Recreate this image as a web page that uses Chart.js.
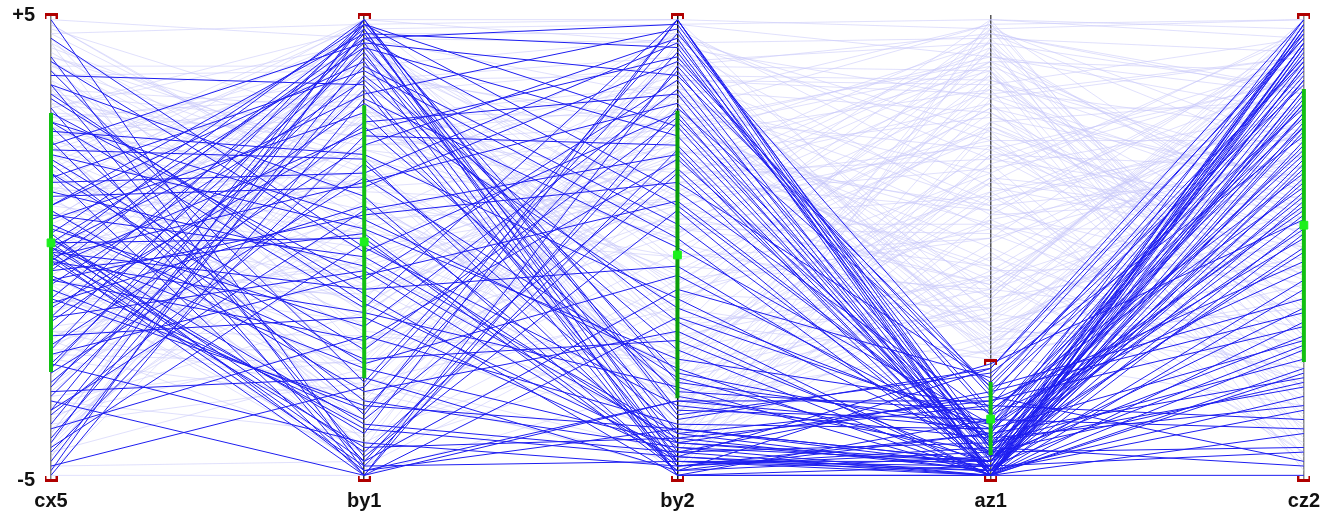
<!DOCTYPE html>
<html>
<head>
<meta charset="utf-8">
<script src="https://cdn.jsdelivr.net/npm/chart.js@4.4.1/dist/chart.umd.min.js"></script>
<style>
  html, body { margin: 0; padding: 0; background: #ffffff; }
  #wrap { width: 1329px; height: 529px; }
</style>
</head>
<body>
<div id="wrap"><canvas id="pcChart" width="1329" height="529"></canvas></div>
<script>
// axes of the parallel coordinates plot
const axisNames = ["cx5", "by1", "by2", "az1", "cz2"];
const axisColors = ["#808080", "#333333", "#111111", "#555555", "#8a8a8a"];

// selected (blue) records, one array per axis
const cx5Sel = [4.9, 4.1, 3.8, 3.5, 3.3, 3.0, 2.7, 2.6, 2.3, 2.1,
	1.9, 1.6, 1.5, 1.2, 0.9, 0.8, 0.6, 0.4, 0.3, 0.2,
	0.1, 0.1, 0.0, 0.0, -0.1, -0.1, -0.2, -0.2, -0.3, -0.3,
	-0.4, -0.5, -0.7, -0.8, -1.1, -1.2, -1.5, -1.6, -1.8, -2.1,
	-2.2, -2.5, -2.6, -2.9, -3.0, -3.2, -3.5, -3.6, -3.8, -4.1,
	-4.2, -4.4, -4.6, -4.8, -4.9, 3.5, 2.9, 2.0, 1.4, 0.7,
	-0.7, -1.5, 4.5, 4.0, 3.2, 2.5, 1.8, 1.1, 0.5, -0.5,
	-0.9, -1.3, -1.9, -2.3, -2.7, -3.1, -3.5, -3.9, -4.3, -4.7,
	0.2, -0.2, 0.1, -0.3, 0.3, 0.0, -0.1, 1.6, -1.1, 2.7,
	-2.5, 3.7, -3.3, 0.9, -0.6, 2.2];
const by1Sel = [-4.7, -4.8, -2.9, -4.5, -1.2, -4.9, 0.6, -3.6, -4.6, 1.9,
	-2.2, -4.9, 3.8, -0.4, 4.6, -3.1, 2.9, -1.7, 4.8, -4.4,
	0.2, 4.3, -2.6, 3.3, -0.9, 4.9, 1.4, -3.9, 4.5, -1.4,
	2.5, 4.7, -2.0, 3.6, 4.4, 0.9, 4.8, 3.1, 4.2, 2.2,
	4.9, 3.9, 4.6, 2.7, 4.3, 3.4, 4.8, 1.8, 4.5, 3.7,
	4.9, 2.4, 4.1, 4.7, 3.2, 1.1, -0.7, 0.4, 1.6, -0.2,
	0.7, -0.5, 0.0, -0.1, -1.0, 2.0, -3.3, 1.3, -2.4, 0.3,
	-3.5, 2.6, -1.5, -0.6, 1.5, -2.8, 0.8, -1.9, 0.1, -3.0,
	-3.8, -4.9, -4.6, -4.3, -4.8, -4.0, -4.7, -2.5, -3.4, -1.3,
	-4.2, 3.5, -4.9, 4.0, -3.7, 4.4];
const by2Sel = [2.1, -3.9, 4.6, 0.8, -4.4, 3.9, -2.6, 4.9, -0.9, -4.6,
	2.8, -3.3, 0.2, -4.1, 4.3, -1.8, -3.7, 3.4, -2.9, 1.6,
	-4.8, 2.4, -4.2, 4.7, -0.4, -3.5, 3.1, -4.5, 0.9, -3.0,
	4.1, -4.9, 1.9, -2.2, 3.7, -4.3, 2.6, -1.3, -4.7, 4.5,
	-3.6, 0.5, -4.0, 3.3, -2.7, -4.9, 1.2, -3.9, 4.8, -1.6,
	-4.4, 2.2, -3.2, -4.6, 0.0, -4.8, 3.6, -2.4, 4.4, -4.0,
	1.4, -4.6, -3.4, 2.9, -4.9, -1.1, -4.3, 4.0, -2.0, -4.7,
	3.8, -3.1, -4.5, 1.0, -2.8, -4.8, 2.0, -3.8, -4.2, 4.2,
	-4.4, -1.5, 2.7, -4.1, -3.3, 4.9, -4.6, -0.6, -3.9, 4.9,
	-4.7, -4.5, 3.0, -4.9, 1.7, -4.2];
const az1Sel = [-4.9, -4.6, -3.1, -4.8, -4.2, -3.6, -4.9, -4.4, -2.8, -4.7,
	-4.1, -3.9, -4.8, -3.4, -4.5, -4.9, -2.6, -4.3, -3.8, -4.9,
	-4.0, -4.6, -3.2, -4.9, -4.4, -3.7, -4.8, -2.5, -4.2, -4.9,
	-3.5, -4.7, -4.1, -4.9, -3.0, -4.6, -4.8, -3.9, -4.3, -4.9,
	-2.7, -4.5, -3.3, -4.8, -4.0, -4.9, -3.6, -4.6, -4.2, -4.9,
	-3.1, -4.7, -4.4, -4.8, -3.8, -4.5, -4.9, -3.4, -4.3, -4.8,
	-2.9, -4.6, -4.1, -4.9, -3.7, -4.4, -4.9, -3.2, -4.7, -4.0,
	-4.8, -3.5, -4.9, -4.2, -4.6, -2.6, -4.9, -3.9, -4.7, -4.3,
	-4.9, -3.8, -4.5, -4.8, -3.3, -4.6, -4.9, -4.1, -4.7, -4.9,
	-4.4, -4.8, -3.0, -4.9, -4.3, -4.6];
const cz2Sel = [4.8, 1.2, -1.4, 4.4, 3.1, -0.5, 2.6, -4.3, 4.6, -2.1,
	0.9, 3.7, -3.2, 4.1, -1.9, 2.3, 4.9, -4.7, 0.2, 3.4,
	-2.8, 1.7, 4.5, -0.9, 2.9, -3.9, 3.9, 0.6, -2.4, 4.3,
	1.3, -4.4, 2.1, 4.7, -1.1, 3.2, -3.5, 0.8, 4.0, -2.6,
	2.4, 4.4, -0.3, 1.9, 3.6, -4.0, 2.8, 4.8, 0.4, -1.6,
	3.0, 4.2, -2.9, 1.5, 3.8, 0.0, 2.7, -3.7, 4.6, 1.0,
	3.5, -1.3, 2.0, -2.2, 4.1, 0.7, 3.3, -4.6, 2.5, 4.9,
	-0.7, 1.6, 3.9, -3.0, 2.2, 4.5, 0.3, -2.0, 3.4, 1.1,
	-4.9, 2.6, 4.7, 0.5, -1.7, 3.1, 1.8, -3.4, 4.3, 2.9,
	-0.1, 3.6, 4.0, -2.7, 1.4, 4.4];

// unselected (faint) records, one array per axis
const cx5Bg = [4.6, 3.1, -2.5, 1.7, -4.1, 0.4, 2.6, -1.3, 3.9, -3.2,
	0.9, -0.6, 4.2, -2.0, 1.3, -4.5, 2.2, -0.1, 3.4, -1.7,
	0.6, -3.6, 2.9, -0.9, 4.4, -2.8, 1.0, -4.8, 2.0, -0.3,
	3.6, -2.2, 0.2, 4.8, -1.5, 1.5, -3.9, 2.4, -0.8, 3.0,
	-2.4, 0.7, -4.3, 1.9, -1.1, 3.8, -3.0, 0.0, 2.7, -1.9,
	4.0, -0.4, 1.2, -3.4, 2.3, -2.6, 0.5, 3.3, -1.2, 1.6,
	-4.4, 2.8, -0.7, 3.7, -2.1, 0.8, 4.7, -3.7, 1.4, -0.2,
	2.5, -1.6, 3.2, -4.0, 0.3, 2.1, -2.9, 1.1, 4.3, -0.5,
	2.0, -3.3, 0.1, 3.5, -1.4, 1.8, -2.3, 4.1, -0.8, 2.6,
	-4.6, 0.4, 3.0, -1.8, 1.3, -3.1, 2.4, -0.1, 4.5, -2.7,
	0.6, 1.9, -4.7, -4.9, 4.9,
	3.3, -1.0, 2.1, -3.5, 0.8, 4.1, -2.6, 1.5, -0.4, 3.6,
	-4.2, 0.9, 2.8, -1.8, 4.6, -3.0, 0.2, 2.4, -1.3, 3.9,
	-2.2, 1.2, -4.5, 2.9, -0.6, 4.4, -2.9, 1.7, -0.2, 3.1,
	-3.8, 0.5, 2.6, -1.5, 4.8, -2.0, 1.0, 3.4, -4.0, 0.0,
	2.2, -1.1, 4.0, -2.4, 1.6];
const by1Bg = [4.8, -1.2, 3.3, -3.6, 0.9, 2.1, -0.3, 4.4, 1.6, -2.4,
	3.7, -4.1, 0.3, 2.8, -1.8, 4.0, -3.1, 1.2, 3.0, -0.8,
	4.6, -2.0, 2.4, -4.4, 0.6, 3.5, -1.5, 1.9, -3.8, 4.2,
	-0.1, 2.5, -2.7, 1.0, 3.9, -4.6, 0.4, 3.2, -1.0, 4.7,
	-3.3, 1.4, 2.7, -2.2, 4.5, -0.6, 1.8, -4.8, 3.6, 0.0,
	-2.9, 2.2, 4.9, -1.4, 0.8, 3.4, -3.9, 1.1, -0.4, 4.1,
	-2.6, 2.0, -1.6, 3.8, 0.5, -4.3, 2.6, -0.2, 4.3, -3.0,
	1.5, 3.1, -1.1, 4.6, -2.1, 0.2, 2.9, -3.5, 1.7, 4.0,
	-0.9, -4.0, 3.6, -1.9, 0.7, 4.8, -2.5, 2.3, -4.7, 1.3,
	3.0, -0.7, 4.4, -3.2, 0.3, 2.1, -1.7, 3.9, -2.3, 1.6,
	4.7, 4.9, -4.6, -4.9, 4.5,
	2.6, -3.4, 4.2, 0.6, -2.8, 1.9, 3.7, -0.5, 4.5, -4.2,
	2.4, 0.0, 3.3, -1.9, 1.2, 4.8, -3.7, 2.8, -0.3, 3.9,
	-2.2, 1.6, 4.3, -1.4, 3.1, -4.5, 1.0, 4.6, -1.1, 2.2,
	-2.9, 3.6, -0.8, 4.1, 0.9, -4.4, 2.7, -2.5, 4.4, 1.5,
	-3.3, 4.9, 0.4, 3.4, -1.3];
const by2Bg = [4.9, 2.4, -0.8, 3.8, -2.9, 1.3, -4.2, 0.6, -1.7, 4.3,
	-3.5, 2.9, -0.2, 3.5, -2.5, 1.8, -4.6, 4.6, -1.1, 2.1,
	-3.9, 0.3, 3.1, -2.2, 1.0, -4.4, 4.0, -0.5, 2.6, -1.4,
	3.3, -3.2, 0.8, -2.7, 4.5, -0.9, 2.3, -4.1, 1.6, -1.9,
	3.6, -3.0, 0.1, 4.8, -2.0, 2.0, -3.7, 3.9, -1.3, 1.1,
	-4.8, 2.7, -0.3, 3.0, -2.6, 0.4, 4.2, -3.4, 1.5, -1.0,
	3.4, -4.5, 0.7, 2.5, -2.3, 4.4, -0.7, 1.9, -3.6, 3.2,
	-1.6, 0.0, 4.7, -2.8, 1.2, -4.0, 2.8, -0.1, 3.7, -3.3,
	0.9, -1.8, 4.1, -2.4, 2.2, -4.3, 0.5, 3.5, -1.2, 1.7,
	-3.1, 4.6, -0.4, 2.4, -4.7, 0.2, 3.0, -2.1, 1.4, -3.8,
	4.8, 4.4, 2.0, -2.9, 3.2,
	-3.0, 1.9, -1.5, 3.6, -4.4, 0.4, 2.7, -3.2, 4.4, -0.7,
	1.6, -2.5, 3.9, -4.0, 0.9, -1.9, 3.3, -3.6, 2.1, -0.9,
	4.0, -4.6, 0.6, 2.9, -2.7, 1.4, -0.2, 4.6, -3.9, 2.4,
	-1.3, 3.7, -4.2, 1.1, -2.2, 3.1, -0.6, 4.3, -3.5, 2.6,
	-1.1, 4.9, -4.9, 0.3, 3.4];
const az1Bg = [4.7, 0.5, 3.9, -1.4, 2.2, -2.1, 4.5, 1.1, -0.7, 3.2,
	-1.9, 4.8, 0.2, -2.3, 3.6, -0.4, 2.7, -1.1, 4.2, 0.8,
	-2.2, 3.4, 1.6, -0.9, 4.0, 2.0, -1.7, 3.0, 0.0, 4.6,
	-2.4, 1.4, 3.7, -1.2, 2.5, 0.4, 4.4, -2.0, 1.9, -0.6,
	3.3, 1.0, -1.6, 4.1, 0.6, 2.8, -1.0, 3.8, -2.3, 1.7,
	4.9, -0.3, 2.4, -1.8, 3.5, 0.3, -2.2, 1.2, 4.3, -1.3,
	2.9, 0.7, -0.8, 3.9, 1.5, -2.0, 2.6, -0.5, 4.7, 0.9,
	-2.4, 3.1, 1.3, -1.5, 4.4, 0.1, 2.1, -1.0, 3.6, -0.2,
	2.3, 4.8, -1.9, 1.8, -0.7, 3.2, 0.5, -2.1, 2.7, 4.6,
	-1.4, 1.9, -0.9, 3.4, 0.6, 4.0, -2.3, 1.4, 2.2, -1.1,
	4.9, 4.5, 3.8, 1.5, 4.8,
	4.3, 0.9, -1.6, 3.5, 1.8, -0.4, 4.0, -2.2, 2.3, 0.2,
	3.1, -1.3, 4.6, 1.1, -0.8, 2.9, 0.4, 3.8, -2.0, 1.6,
	4.4, -0.6, 2.5, -1.7, 3.3, 0.8, 4.7, -2.3, 2.0, -1.1,
	3.7, 1.0, -0.1, 4.2, 2.1, -1.8, 3.0, 0.7, -0.5, 4.1,
	1.2, -1.5, 2.6, 4.9, -0.9];
const cz2Bg = [4.9, -3.3, 1.2, 4.1, -0.6, 2.8, -1.9, 3.6, -4.2, 0.9,
	2.2, -2.7, 4.6, -1.1, 1.7, -3.8, 3.2, 0.1, -2.3, 4.3,
	-0.4, 2.5, -4.6, 1.4, 3.8, -1.5, 0.6, 3.0, -3.0, 1.9,
	-0.8, 4.7, -2.0, 2.0, -3.6, 0.4, 3.4, -1.3, 4.0, -4.4,
	1.0, 2.7, -0.2, 3.3, -2.5, 1.5, 4.4, -1.7, 0.7, 2.9,
	-3.1, 3.7, -0.9, 1.8, 4.5, -2.2, 0.3, 2.4, -4.0, 3.9,
	-1.2, 1.1, 4.2, -2.8, 0.8, 2.6, -0.5, 3.5, -3.5, 1.6,
	4.8, -1.8, 0.0, 2.1, -4.5, 3.1, -0.7, 4.6, 1.3, -2.4,
	2.3, 0.2, 3.9, -3.9, 1.5, 4.1, -1.0, 2.8, -0.3, 3.3,
	-2.6, 0.9, 4.4, -4.3, 1.9, -1.4, 3.0, 0.5, -2.1, 4.9,
	4.7, 4.2, -4.8, -4.7, 4.9,
	0.4, -3.2, 2.6, -0.1, 3.7, -2.9, 1.2, 4.5, -1.6, 2.0,
	-4.1, 0.8, 3.4, -2.3, 4.0, -0.6, 2.7, -3.7, 1.1, 4.6,
	-1.9, 3.0, 0.3, -2.6, 4.1, -0.8, 2.2, -3.4, 1.7, 4.8,
	-1.3, 2.5, -4.4, 0.6, 3.6, -2.0, 1.4, 4.3, -0.4, 2.9,
	-3.0, 3.8, 0.0, 4.5, -1.7];

// per-axis summary of the selection (mean and band) and brush range
const meanValues = [0.1, 0.12, -0.16, -3.69, 0.48];
const bandHigh = [2.89, 3.06, 2.94, -2.89, 3.41];
const bandLow = [-2.68, -2.81, -3.24, -4.46, -2.46];
const brushTop = [5, 5, 5, -2.44, 5];
const brushBottom = [-5, -5, -5, -5, -5];
const yTickValues = [-5, 5];

const selColumns = [cx5Sel, by1Sel, by2Sel, az1Sel, cz2Sel];
const bgColumns = [cx5Bg, by1Bg, by2Bg, az1Bg, cz2Bg];

const makeBracket = (up) => {
	const c = document.createElement("canvas");
	c.width = 13;
	c.height = 8;
	const g = c.getContext("2d");
	g.fillStyle = "#b00000";
	if (up) {
		g.fillRect(0, 2, 13, 3);
		g.fillRect(0, 2, 2, 6);
		g.fillRect(11, 2, 2, 6);
	} else {
		g.fillRect(0, 3, 13, 3);
		g.fillRect(0, 0, 2, 6);
		g.fillRect(11, 0, 2, 6);
	}
	return c;
};

const recordsToDatasets = (columns, color, order) => {
	const out = [];
	for (let i = 0; i < columns[0].length; i++) {
		out.push({
			data: columns.map((col, k) => ({ x: k, y: col[i] })),
			borderColor: color,
			borderWidth: 1,
			pointRadius: 0,
			tension: 0,
			order: order,
		});
	}
	return out;
};

const initChart = () => {
	const canvas = document.getElementById("pcChart");
	const topBracket = makeBracket(true);
	const bottomBracket = makeBracket(false);

	const datasets = [];

	// green bands
	axisNames.forEach((name, k) => {
		datasets.push({
			data: [{ x: k, y: bandHigh[k] }, { x: k, y: bandLow[k] }],
			borderColor: k === 2 ? "#0a9e0a" : "#12c012",
			borderWidth: 4,
			pointRadius: 0,
			clip: false,
			order: 0,
		});
	});

	// mean dots
	datasets.push({
		data: meanValues.map((v, k) => ({ x: k, y: v })),
		showLine: false,
		pointStyle: "rect",
		pointRadius: 5.5,
		pointBackgroundColor: "#1cf01c",
		pointBorderColor: "#1cf01c",
		clip: false,
		order: -1,
	});

	// brush brackets
	datasets.push({
		data: brushTop.map((v, k) => ({ x: k, y: v })).filter((p) => p.x !== 3),
		showLine: false,
		pointStyle: topBracket,
		clip: false,
		order: 0,
	});
	datasets.push({
		data: [{ x: 3, y: brushTop[3] }],
		showLine: false,
		pointStyle: topBracket,
		clip: false,
		order: 0,
	});
	datasets.push({
		data: brushBottom.map((v, k) => ({ x: k, y: v })),
		showLine: false,
		pointStyle: bottomBracket,
		clip: false,
		order: 0,
	});

	recordsToDatasets(selColumns, "rgb(30,30,240)", 1).forEach((d) => datasets.push(d));
	recordsToDatasets(bgColumns, "rgba(198,198,250,0.55)", 2).forEach((d) => datasets.push(d));

	const chart = new Chart(canvas, {
		type: "line",
		data: { datasets: datasets },
		options: {
			responsive: false,
			animation: false,
			events: [],
			layout: { padding: { top: 15, right: 20, left: 0, bottom: 0 } },
			plugins: {
				legend: { display: false },
				tooltip: { enabled: false },
			},
			scales: {
				x: {
					type: "linear",
					min: 0,
					max: 4,
					afterBuildTicks: (scale) => {
						scale.ticks = axisNames.map((n, k) => ({ value: k }));
					},
					afterFit: (scale) => {
						scale.height = 49;
					},
					ticks: {
						callback: (v) => axisNames[v],
						color: "#111",
						font: { family: "Liberation Sans", size: 20, weight: "bold" },
						padding: 9,
						maxRotation: 0,
					},
					grid: {
						color: (ctx) => axisColors[ctx.index],
						lineWidth: 1.5,
						drawTicks: false,
					},
					border: { display: false },
				},
				y: {
					min: -5,
					max: 5,
					afterBuildTicks: (scale) => {
						scale.ticks = yTickValues.map((v) => ({ value: v }));
					},
					afterFit: (scale) => {
						scale.width = 51;
						scale.paddingTop = 0;
						scale.paddingBottom = 0;
					},
					ticks: {
						callback: (v) => (v > 0 ? "+" + v : String(v)),
						color: "#111",
						font: { family: "Liberation Sans", size: 20, weight: "bold" },
						padding: 16,
					},
					grid: { display: false, drawTicks: false },
					border: { display: false },
				},
			},
		},
	});

	return chart;
};

window.onload = () => {
	initChart();
};
</script>
</body>
</html>
